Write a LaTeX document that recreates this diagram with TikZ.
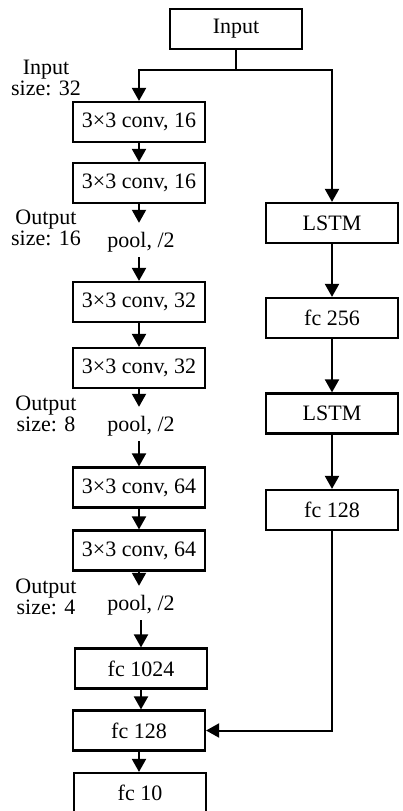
\documentclass[tikz,border=0pt]{standalone}
\usepackage{fontspec}
\setmainfont{Liberation Serif}
\usetikzlibrary{arrows.meta}
\begin{document}
\begin{tikzpicture}[x=1pt,y=-1pt,
  every node/.style={font=\fontsize{22}{21.5}\selectfont},
  blk/.style={draw,line width=2.2pt,minimum width=132pt,minimum height=40pt,inner sep=0pt},
  pl/.style={text height=15pt,text depth=0pt,inner ysep=9.5pt,inner xsep=0pt},
  lab/.style={align=center,inner sep=0pt},
  arr/.style={line width=2pt,-{Triangle[width=14pt,length=13pt]}},
  ln/.style={line width=2pt}]
\useasboundingbox (0,0) rectangle (403,811);
% left column
\node[blk] (in) at (236,29) {Input};
\node[blk] (c1) at (139,122) {3×3 conv, 16};
\node[blk] (c2) at (139,183) {3×3 conv, 16};
\node[pl] (p1) at (141,240) {pool, /2};
\node[blk] (c3) at (139,302) {3×3 conv, 32};
\node[blk] (c4) at (139,368) {3×3 conv, 32};
\node[pl] (p2) at (141,424) {pool, /2};
\node[blk] (c5) at (139,487.5) {3×3 conv, 64};
\node[blk] (c6) at (139,550.5) {3×3 conv, 64};
\node[pl] (p3) at (141,603) {pool, /2};
\node[blk] (f1) at (141,668.5) {fc 1024};
\node[blk] (f2) at (139,730.5) {fc 128};
\node[blk] (f3) at (140,793) {fc 10};
% right column
\node[blk] (l1) at (332,223) {LSTM};
\node[blk] (r1) at (332,318) {fc 256};
\node[blk] (l2) at (332,413.5) {LSTM};
\node[blk] (r2) at (332,510) {fc 128};
% side labels
\node[lab] (s0) at (46,78) {Input\\size: 32};
\node[lab] (s1) at (46,228) {Output\\size: 16};
\node[lab] (s2) at (46,414) {Output\\size: 8};
\node[lab] (s3) at (46,597) {Output\\size: 4};
% connectors
\coordinate (j) at (236,70);
\draw[ln] (in.south) -- (j);
\draw[arr] (j) -| (c1.north);
\draw[arr] (j) -| (l1.north);
\draw[arr] (c1.south) -- (c1.south |- c2.north);
\draw[arr] (c2.south) -- (c2.south |- p1.north);
\draw[arr] (c2.south |- p1.south) -- (c2.south |- c3.north);
\draw[arr] (c3.south) -- (c3.south |- c4.north);
\draw[arr] (c4.south) -- (c4.south |- p2.north);
\draw[arr] (c4.south |- p2.south) -- (c4.south |- c5.north);
\draw[arr] (c5.south) -- (c5.south |- c6.north);
\draw[arr] (c6.south) -- (c6.south |- p3.north);
\draw[arr] (f1.north |- p3.south) -- (f1.north);
\draw[arr] (f1.south) -- (f1.south |- f2.north);
\draw[arr] (f2.south) -- (f2.south |- f3.north);
\draw[arr] (l1.south) -- (r1.north);
\draw[arr] (r1.south) -- (l2.north);
\draw[arr] (l2.south) -- (r2.north);
\draw[arr] (r2.south) |- (f2.east);
\end{tikzpicture}
\end{document}
